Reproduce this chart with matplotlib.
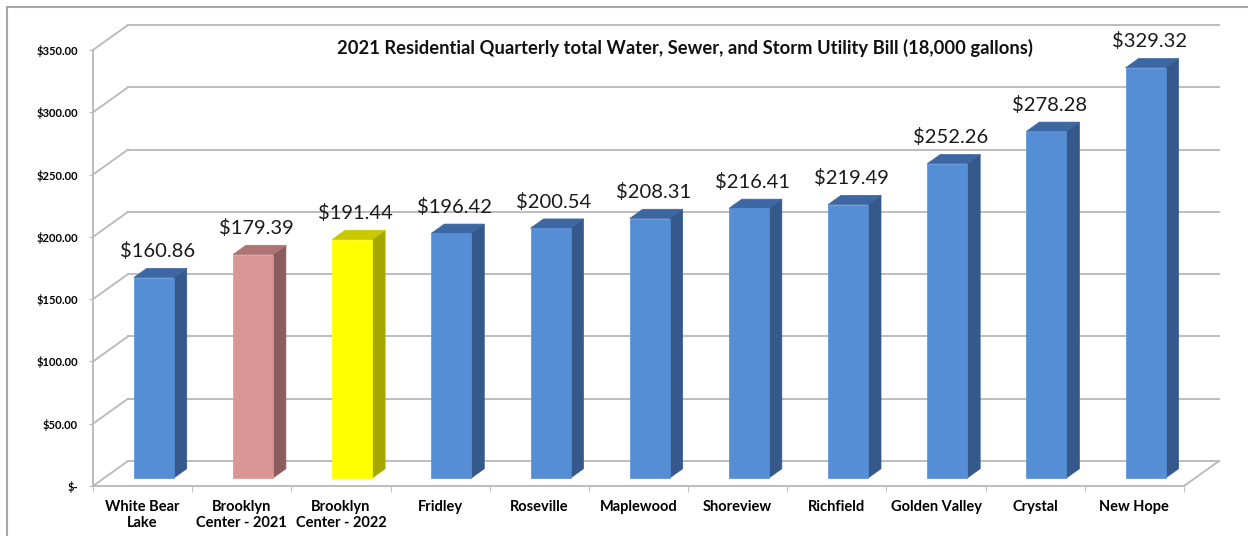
import matplotlib
matplotlib.use("Agg")
import matplotlib.pyplot as plt
from matplotlib.patches import Polygon, Rectangle
from matplotlib.lines import Line2D

# ---- data ----
categories = ["White Bear\nLake", "Brooklyn\nCenter - 2021", "Brooklyn\nCenter - 2022",
              "Fridley", "Roseville", "Maplewood", "Shoreview", "Richfield",
              "Golden Valley", "Crystal", "New Hope"]
values = [160.86, 179.39, 191.44, 196.42, 200.54, 208.31, 216.41, 219.49,
          252.26, 278.28, 329.32]
y_ticks = [0, 50, 100, 150, 200, 250, 300, 350]
y_tick_labels = ["$-", "$50.00", "$100.00", "$150.00", "$200.00", "$250.00",
                 "$300.00", "$350.00"]
title = "2021 Residential Quarterly total Water, Sewer, and Storm Utility Bill (18,000 gallons)"

# ---- styles ----
blue = ("#558ed5", "#34598a", "#3d67a2")
pink = ("#d99694", "#8b5d5d", "#ae7473")
yellow = ("#ffff00", "#a6a600", "#c9c900")
bar_styles = [blue, pink, yellow] + [blue] * 8
grid_c = "#b8b8b8"
FONT = ["Lato", "DejaVu Sans"]

W, H = 1248, 536
fig = plt.figure(figsize=(W / 100, H / 100), dpi=100)
fig.patch.set_facecolor("white")

# front plane of plot area (pixels)
x0, x1, y_top, y_bot = 93, 1184, 50, 486
ax = fig.add_axes([x0 / W, (H - y_bot) / H, (x1 - x0) / W, (y_bot - y_top) / H])
ax.set_xlim(-0.5, len(categories) - 0.5)
ax.set_ylim(0, 350)
ax.patch.set_alpha(0)

# depth offset in data units (35 px right, 25 px up)
DX = 35 / (x1 - x0) * len(categories)
DY = 25 / (y_bot - y_top) * 350


def P(x, v, d):
    return (x + DX * d, v + DY * d)


xl, xr = -0.5, len(categories) - 0.5
# back wall gridlines + left wall diagonals
for v in y_ticks:
    for pts in ([P(xl, v, 1), P(xr, v, 1)], [P(xl, v, 0), P(xl, v, 1)]):
        ax.add_line(Line2D([p[0] for p in pts], [p[1] for p in pts], color=grid_c,
                           lw=1.3, clip_on=False, zorder=1))
# floor right edge
pts = [P(xr, 0, 0), P(xr, 0, 1)]
ax.add_line(Line2D([p[0] for p in pts], [p[1] for p in pts], color=grid_c,
                   lw=1.3, clip_on=False, zorder=1))

# bars
BW, d0, d1 = 0.403, 0.32, 0.69
for i, (v, st) in enumerate(zip(values, bar_styles)):
    l, r = i - BW / 2, i + BW / 2
    front = [P(l, 0, d0), P(r, 0, d0), P(r, v, d0), P(l, v, d0)]
    side = [P(r, 0, d0), P(r, 0, d1), P(r, v, d1), P(r, v, d0)]
    top = [P(l, v, d0), P(r, v, d0), P(r, v, d1), P(l, v, d1)]
    for poly, c in ((side, st[1]), (top, st[2]), (front, st[0])):
        ax.add_patch(Polygon(poly, closed=True, fc=c, ec=c, lw=0.5,
                             clip_on=False, zorder=3))
    lx = P(i, v, 0.42)[0]
    ly = P(i, v, d1)[1]
    ax.annotate(f"${v:.2f}", xy=(lx, ly),
                xytext=(0, 8), textcoords="offset points", ha="center",
                va="baseline", fontsize=14.5, family=FONT, color="#1a1a1a",
                annotation_clip=False, zorder=5)

# axes styling
for s in ("top", "right"):
    ax.spines[s].set_visible(False)
for s in ("left", "bottom"):
    ax.spines[s].set_color(grid_c)
    ax.spines[s].set_linewidth(1.3)
ax.set_yticks(y_ticks, y_tick_labels)
ax.tick_params(axis="y", length=3, color=grid_c, pad=8, labelsize=8)
for t in ax.get_yticklabels():
    t.set_fontweight("bold")
    t.set_family(FONT)
ax.set_xticks(range(len(categories)), categories)
ax.set_xticks([k - 0.5 for k in range(len(categories) + 1)], minor=True)
ax.tick_params(axis="x", which="major", length=0, pad=10, labelsize=10.5)
ax.tick_params(axis="x", which="minor", length=4, color=grid_c, direction="out")
for t in ax.get_xticklabels():
    t.set_fontweight("bold")
    t.set_family(FONT)
    t.set_linespacing(1.15)

fig.text(685 / W, 1 - 48 / H, title, ha="center", va="center",
         fontsize=13.2, fontweight="bold", family=FONT, color="#111111")

# outer chart frame (top/left visible)
fig.patches.append(Rectangle((7 / W, -0.5), 1.5, 1.5 - 7 / H, transform=fig.transFigure,
                             fill=False, ec="#a6a6a6", lw=1.5, zorder=0))

fig.savefig("out.png", dpi=100)
